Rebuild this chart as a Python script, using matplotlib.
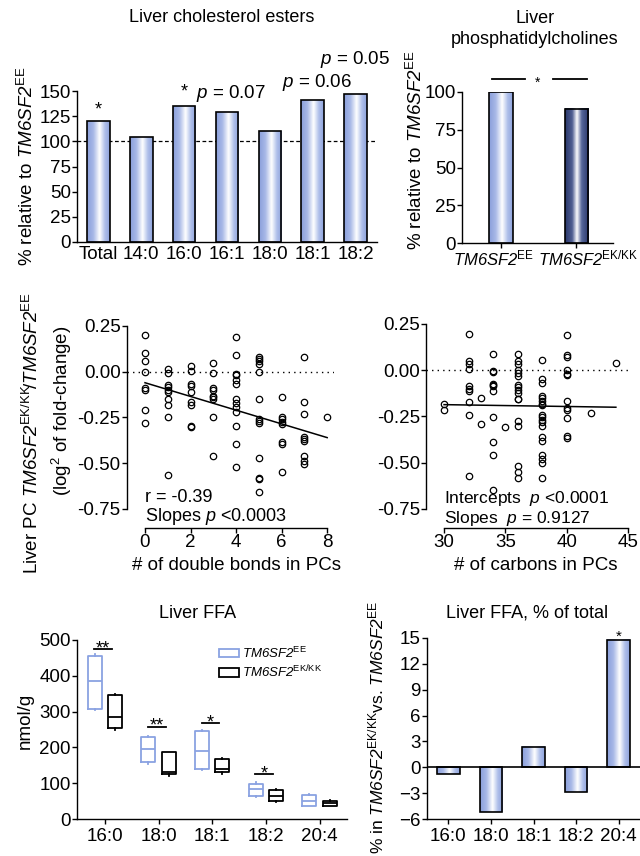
import numpy as np
import matplotlib
matplotlib.use("Agg")
import matplotlib.pyplot as plt
from matplotlib.colors import LinearSegmentedColormap
from matplotlib.patches import Patch

plt.rcParams['font.family'] = ['Liberation Sans', 'DejaVu Sans']
plt.rcParams['mathtext.fontset'] = 'custom'
plt.rcParams['mathtext.rm'] = 'Liberation Sans'
plt.rcParams['mathtext.it'] = 'Liberation Sans:italic'
plt.rcParams['mathtext.bf'] = 'Liberation Sans:italic'   # used for italic gene names incl. digits
plt.rcParams['mathtext.sf'] = 'Liberation Sans'
plt.rcParams['axes.linewidth'] = 1.0
plt.rcParams['xtick.major.width'] = 1.0
plt.rcParams['ytick.major.width'] = 1.0
plt.rcParams['xtick.major.size'] = 3.5
plt.rcParams['ytick.major.size'] = 3.5

G_EE = r'\mathbf{TM6SF2}^{\mathrm{EE}}'
G_KK = r'\mathbf{TM6SF2}^{\mathrm{EK/KK}}'

# ---------------- DATA ----------------
ce_labels = ['Total', '14:0', '16:0', '16:1', '18:0', '18:1', '18:2']
ce_values = [120, 104, 135, 129, 110, 141, 147]

pc_labels = ['$' + G_EE + '$', '$' + G_KK + '$']
pc_values = [100, 89]

db_x = ([0] * 8 + [1] * 10 + [2] * 9 + [3] * 9 + [4] * 13 + [5] * 13 + [6] * 8 + [7] * 9 + [8])
db_y = [0.20, 0.10, 0.056, 0.00, -0.09, -0.10, -0.21, -0.28,
        0.015, -0.007, -0.07, -0.086, -0.098, -0.113, -0.149, -0.184, -0.25, -0.563,
        0.034, 0.002, -0.067, -0.08, -0.108, -0.166, -0.182, -0.294, -0.302,
        0.05, -0.007, -0.09, -0.10, -0.13, -0.14, -0.15, -0.245, -0.46,
        0.19, 0.093, -0.01, -0.02, -0.045, -0.065, -0.15, -0.17, -0.19, -0.22, -0.295, -0.395, -0.52,
        0.08, 0.07, 0.056, 0.044, 0.0, -0.15, -0.26, -0.27, -0.28, -0.47, -0.58, -0.585, -0.655,
        -0.14, -0.25, -0.26, -0.275, -0.286, -0.385, -0.394, -0.55,
        0.08, -0.166, -0.23, -0.357, -0.368, -0.38, -0.463, -0.487, -0.505,
        -0.25]
db_fit_x = [0, 8]
db_fit_y = [-0.06, -0.36]

cb_x = ([30] * 2 + [32] * 10 + [33] * 2 + [34] * 11 + [35] + [36] * 17 + [38] * 19 + [40] * 12 + [42] + [44])
cb_y = [-0.185, -0.215,
        0.196, 0.05, 0.036, 0.009, -0.087, -0.10, -0.112, -0.172, -0.243, -0.57,
        -0.148, -0.29,
        0.09, -0.004, -0.009, -0.072, -0.08, -0.085, -0.112, -0.254, -0.39, -0.456, -0.65,
        -0.305,
        0.087, 0.049, 0.033, 0.0, -0.015, -0.031, -0.082, -0.091, -0.105, -0.121, -0.154, -0.158,
        -0.276, -0.30, -0.52, -0.55, -0.58,
        0.058, -0.05, -0.07, -0.14, -0.15, -0.165, -0.18, -0.19, -0.24, -0.255, -0.27, -0.28, -0.30,
        -0.36, -0.385, -0.46, -0.48, -0.50, -0.58,
        0.19, 0.082, 0.072, 0.0, -0.018, -0.027, -0.167, -0.203, -0.216, -0.257, -0.355, -0.366,
        -0.23,
        0.04]
cb_fit_x = [30, 44]
cb_fit_y = [-0.186, -0.20]

ffa_labels = ['16:0', '18:0', '18:1', '18:2', '20:4']
# min, q1, median, q3, max
ffa_ee = [[304, 307, 385, 456, 461],
          [155, 158, 195, 230, 233],
          [137, 140, 191, 246, 249],
          [62, 65, 83, 99, 102],
          [35, 37, 49, 67, 70]]
ffa_kk = [[250, 255, 286, 345, 348],
          [121, 125, 130, 186, 188],
          [127, 130, 140, 168, 171],
          [48, 51, 65, 80, 83],
          [36, 37, 44, 50, 52]]
ffa_sig = ['**', '**', '*', '*']
ffa_sig_y = [475, 258, 269, 125]

pct_labels = ['16:0', '18:0', '18:1', '18:2', '20:4']
pct_values = [-0.8, -5.2, 2.35, -2.9, 14.8]

# ---------------- STYLE ----------------
W, H = 640, 856
fig = plt.figure(figsize=(W / 100, H / 100), dpi=100)

def ax_px(left, top, right, bottom):
    return fig.add_axes([left / W, 1 - bottom / H, (right - left) / W, (bottom - top) / H])

def ftext(x, y, s, **kw):
    fig.text(x / W, 1 - y / H, s, **kw)

light = LinearSegmentedColormap.from_list('light', [(0, '#8a9fdb'), (0.28, '#a9b9e7'), (0.55, '#ffffff'),
                                                    (0.78, '#b0c0ea'), (1, '#8ea3dd')])
dark = LinearSegmentedColormap.from_list('dark', [(0, '#2a386b'), (0.3, '#4f5e92'), (0.5, '#ffffff'),
                                                  (0.7, '#56669a'), (1, '#2a386b')])
grad = np.linspace(0, 1, 64).reshape(1, -1)

def gradient_bars(ax, bars, cmaps):
    for b, cm in zip(bars, cmaps):
        y0, y1 = sorted([b.get_y(), b.get_y() + b.get_height()])
        ax.imshow(grad, extent=[b.get_x(), b.get_x() + b.get_width(), y0, y1],
                  aspect='auto', cmap=cm, zorder=2, interpolation='bilinear')

TICK = 13.5
LAB = 13

# ---------------- Panel 1 ----------------
ax1 = ax_px(77, 91, 377, 242)
x1 = np.arange(len(ce_values))
bars = ax1.bar(x1, ce_values, 0.53, color='none', edgecolor='black', lw=1.2, zorder=3)
gradient_bars(ax1, bars, [light] * len(bars))
ax1.axhline(100, color='black', lw=0.9, ls=(0, (3, 2)), zorder=1)
ax1.set_xlim(-0.5, 6.5)
ax1.set_ylim(0, 150)
ax1.set_yticks([0, 25, 50, 75, 100, 125, 150])
ax1.set_xticks(x1)
ax1.set_xticklabels(ce_labels)
ax1.tick_params(axis='x', length=0, labelsize=TICK, pad=3)
ax1.tick_params(axis='y', labelsize=TICK, pad=1)
for s in ['top', 'right']:
    ax1.spines[s].set_visible(False)
ax1.text(0, 131, '*', ha='center', va='center', fontsize=LAB)
ax1.text(2, 149, '*', ha='center', va='center', fontsize=LAB)
ax1.text(3.1, 148, r'$p$ = 0.07', ha='center', va='center', fontsize=TICK)
ax1.text(5.1, 158, r'$p$ = 0.06', ha='center', va='center', fontsize=TICK)
ax1.text(5.98, 181, r'$p$ = 0.05', ha='center', va='center', fontsize=TICK)
ftext(222, 17, 'Liver cholesterol esters', ha='center', va='center', fontsize=LAB)
ftext(27, 166, '% relative to $' + G_EE + '$', ha='center', va='center',
      rotation=90, fontsize=TICK)

# ---------------- Panel 2 ----------------
ax2 = ax_px(462, 92, 613, 243)
x2 = np.arange(len(pc_values))
bars = ax2.bar(x2, pc_values, 0.31, color='none', edgecolor='black', lw=1.2, zorder=3)
gradient_bars(ax2, bars, [light, dark])
ax2.set_xlim(-0.52, 1.49)
ax2.set_ylim(0, 100)
ax2.set_yticks([0, 25, 50, 75, 100])
ax2.set_xticks(x2)
ax2.set_xticklabels(['', ''])
ax2.tick_params(axis='y', labelsize=TICK, pad=1)
for s in ['top', 'right']:
    ax2.spines[s].set_visible(False)
ax2.text(x2[0] - 0.1, -10.5, pc_labels[0], ha='center', va='center', fontsize=12, clip_on=False)
ax2.text(x2[1] + 0.82, -10.5, pc_labels[1], ha='right', va='center', fontsize=12, clip_on=False)
ax2.plot([-0.12, 0.32], [108.6, 108.6], color='black', lw=1.3, clip_on=False)
ax2.plot([0.69, 1.15], [108.6, 108.6], color='black', lw=1.3, clip_on=False)
ax2.text(0.49, 106, '*', ha='center', va='center', fontsize=10)
ftext(535, 29, 'Liver\nphosphatidylcholines', ha='center', va='center', fontsize=LAB,
      linespacing=1.25)
ftext(416, 150, '% relative to $' + G_EE + '$', ha='center', va='center',
      rotation=90, fontsize=TICK)

# ---------------- Panel 3 ----------------
def scatter_axes(ax):
    ax.axhline(0, color='black', lw=1.0, ls=(0, (1, 3)), zorder=1)
    ax.spines['left'].set_bounds(-0.75, 0.25)
    for s in ['top', 'right']:
        ax.spines[s].set_visible(False)
    ax.set_yticks([0.25, 0.0, -0.25, -0.5, -0.75])
    ax.set_yticklabels(['0.25', '0.00', '-0.25', '-0.50', '-0.75'])
    ax.tick_params(labelsize=TICK, pad=1)

ax3 = ax_px(127, 326, 334, 528)
ax3.plot(db_x, db_y, 'o', ms=4.6, mfc='none', mec='black', mew=0.9, zorder=3)
ax3.plot(db_fit_x, db_fit_y, color='black', lw=1.1, zorder=2)
ax3.set_xlim(-0.79, 8.3)
ax3.set_ylim(-0.854, 0.25)
ax3.spines['bottom'].set_bounds(0, 8)
ax3.set_xticks([0, 2, 4, 6, 8])
scatter_axes(ax3)
ax3.text(0.0, -0.69, 'r = -0.39', ha='left', va='center', fontsize=13)
ax3.text(0.0, -0.79, r'Slopes $p$ <0.0003', ha='left', va='center', fontsize=13)
ftext(236, 566, '# of double bonds in PCs', ha='center', va='center', fontsize=TICK)
ftext(32, 433, 'Liver PC $' + G_KK + r'\!/' + G_EE + '$',
      ha='center', va='center', rotation=90, fontsize=TICK)
ftext(62, 411, r'(log$^2$ of fold-change)', ha='center', va='center', rotation=90, fontsize=TICK)

# ---------------- Panel 4 ----------------
ax4 = ax_px(426, 324, 630, 528)
ax4.plot(cb_x, cb_y, 'o', ms=4.6, mfc='none', mec='black', mew=0.9, zorder=3)
ax4.plot(cb_fit_x, cb_fit_y, color='black', lw=1.1, zorder=2)
ax4.set_xlim(28.53, 45.15)
ax4.set_ylim(-0.853, 0.25)
ax4.spines['bottom'].set_bounds(30, 45)
ax4.set_xticks([30, 35, 40, 45])
scatter_axes(ax4)
ax4.text(30.0, -0.695, r'Intercepts  $p$ <0.0001', ha='left', va='center', fontsize=12.5)
ax4.text(30.0, -0.80, r'Slopes  $p$ = 0.9127', ha='left', va='center', fontsize=12.5)
ftext(536, 566, '# of carbons in PCs', ha='center', va='center', fontsize=TICK)

# ---------------- Panel 5 ----------------
ax5 = ax_px(77, 640, 347, 819)
x5 = np.arange(len(ffa_labels))
blue = '#8aa2e2'
def stats(rows):
    return [dict(whislo=r[0], q1=r[1], med=r[2], q3=r[3], whishi=r[4]) for r in rows]
for rows, off, col in [(ffa_ee, -0.19, blue), (ffa_kk, 0.19, 'black')]:
    ax5.bxp(stats(rows), positions=x5 + off, widths=0.26, showfliers=False, showcaps=False,
            boxprops=dict(color=col, lw=1.3), medianprops=dict(color=col, lw=1.3),
            whiskerprops=dict(color=col, lw=1.3), manage_ticks=False)
for i, (s, yv) in enumerate(zip(ffa_sig, ffa_sig_y)):
    ax5.plot([i - 0.2, i + 0.13], [yv, yv], color='black', lw=1.3)
    ax5.text(i - 0.04, yv - 12, s, ha='center', va='baseline', fontsize=13)
ax5.set_xlim(-0.52, 4.51)
ax5.set_ylim(0, 500)
ax5.set_xticks(x5)
ax5.set_xticklabels(ffa_labels)
ax5.set_yticks([0, 100, 200, 300, 400, 500])
ax5.tick_params(labelsize=TICK, pad=1)
ax5.tick_params(axis='x', pad=3)
for s in ['top', 'right']:
    ax5.spines[s].set_visible(False)
handles = [Patch(facecolor='white', edgecolor=blue, lw=1.3),
           Patch(facecolor='white', edgecolor='black', lw=1.3)]
ax5.legend(handles, ['$' + G_EE + '$', '$' + G_KK + '$'],
           loc='upper left', bbox_to_anchor=(0.525, 0.97), frameon=False, fontsize=9.5,
           handlelength=1.5, handleheight=0.65, handletextpad=0.3, labelspacing=0.25,
           borderpad=0, borderaxespad=0)
ftext(198, 614, 'Liver FFA', ha='center', va='center', fontsize=LAB)
ftext(25, 721, 'nmol/g', ha='center', va='center', rotation=90, fontsize=TICK)

# ---------------- Panel 6 ----------------
ax6 = ax_px(427, 638, 640, 819)
x6 = np.arange(len(pct_values))
bars = ax6.bar(x6, pct_values, 0.53, color='none', edgecolor='black', lw=1.2, zorder=3)
gradient_bars(ax6, bars, [light] * len(bars))
ax6.axhline(0, color='black', lw=1.2, zorder=4)
ax6.set_xlim(-0.5, 4.5)
ax6.set_ylim(-6, 15)
ax6.set_yticks([-6, -3, 0, 3, 6, 9, 12, 15])
ax6.set_xticks(x6)
ax6.set_xticklabels(pct_labels)
ax6.tick_params(labelsize=TICK, pad=1)
ax6.tick_params(axis='x', pad=3)
for s in ['top', 'right']:
    ax6.spines[s].set_visible(False)
ax6.text(4, 14.65, '*', ha='center', va='baseline', fontsize=11)
ftext(527, 613, 'Liver FFA, % of total', ha='center', va='center', fontsize=LAB)
ftext(376, 727, '% in $' + G_KK + '$vs. $' + G_EE + '$',
      ha='center', va='center', rotation=90, fontsize=12.5)

fig.savefig('out.png', dpi=100)
